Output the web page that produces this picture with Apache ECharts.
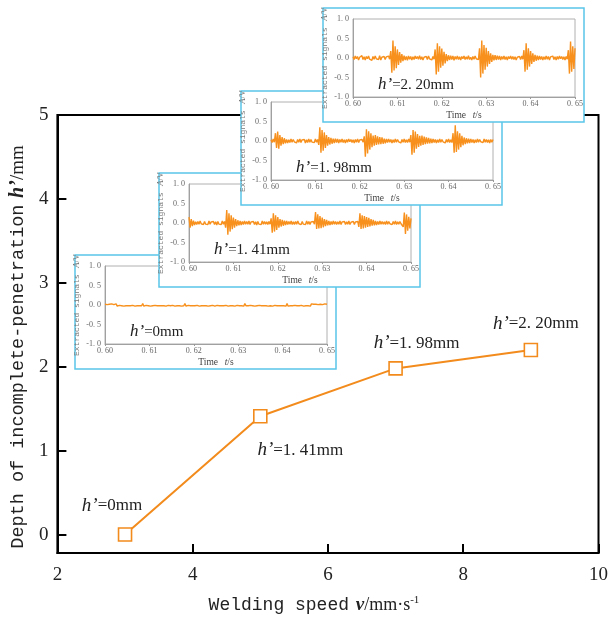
<!DOCTYPE html>
<html>
<head>
<meta charset="utf-8">
<script src="https://cdn.jsdelivr.net/npm/echarts@6/dist/echarts.min.js"></script>
<style>html,body{margin:0;padding:0;background:#fff}#c{width:611px;height:621px}</style>
</head>
<body>
<div id="c"></div>
<script>
// ---------- data ----------
const mainSpeed = [3, 5, 7, 9];
const mainDepth = [0, 1.41, 1.98, 2.20];
const mainXTicks = [2, 4, 6, 8, 10];
const mainYTicks = [0, 1, 2, 3, 4, 5];

const insetTimeTicks = [0.60, 0.61, 0.62, 0.63, 0.64, 0.65];
const insetSignalTicks = [-1, -0.5, 0, 0.5, 1];
const sampleStart = 0.60;
const sampleStep = 0.00025;

const signal0mm = [
0.02,-0.02,0.01,-0.03,0.02,-0.01,0.03,-0.02,0.01,-0.02,
0.03,-0.03,0.02,-0.01,0.02,-0.02,0.01,-0.03,0.02,-0.02,
0.01,-0.02,0.03,-0.02,0.02,-0.01,0.02,-0.03,0.01,-0.02,
0.02,-0.02,0.01,-0.02,0.04,-0.03,0.02,-0.01,0.02,-0.02,
0.01,-0.03,0.02,-0.02,0.01,-0.01,0.03,-0.02,0.02,-0.02,
0.03,-0.02,0.01,-0.02,0.02,-0.03,0.01,-0.01,0.02,-0.02,
0.02,-0.01,0.03,-0.03,0.01,-0.02,0.02,-0.02,0.01,-0.03,
0.02,-0.02,0.04,-0.03,0.02,-0.01,0.01,-0.02,0.03,-0.02,
0.01,-0.02,0.02,-0.01,0.02,-0.03,0.02,-0.02,0.01,-0.02,
0.03,-0.02,0.01,-0.03,0.02,-0.02,0.01,-0.01,0.02,-0.03,
0.02,-0.01,0.02,-0.02,0.03,-0.02,0.01,-0.02,0.02,-0.01,
0.01,-0.03,0.02,-0.02,0.01,-0.02,0.03,-0.03,0.02,-0.01,
0.02,-0.02,0.01,-0.02,0.02,-0.03,0.04,-0.02,0.01,-0.02,
0.03,-0.01,0.02,-0.02,0.01,-0.03,0.02,-0.02,0.02,-0.01,
0.01,-0.02,0.03,-0.02,0.02,-0.02,0.01,-0.03,0.02,-0.02,
0.02,-0.03,0.01,-0.01,0.02,-0.02,0.03,-0.02,0.01,-0.02,
0.03,-0.02,0.02,-0.03,0.04,-0.03,0.02,-0.02,0.01,-0.02,
0.02,-0.01,0.01,-0.02,0.03,-0.02,0.02,-0.01,0.02,-0.03,
0.01,-0.02,0.02,-0.02,0.01,-0.03,0.03,-0.02,0.02,-0.01,
0.02,-0.02,0.01,-0.03,0.02,-0.02,0.01,-0.02,0.03,-0.02,
0.02
];

const signal141 = [
0.15,-0.12,0.10,-0.08,0.06,-0.05,
0.03,-0.04,0.04,-0.03,0.05,-0.02,0.03,-0.04,0.04,-0.03,
0.02,-0.04,0.05,-0.03,0.03,-0.02,0.04,-0.04,0.03,-0.05,
0.04,-0.03,0.02,-0.04,0.05,-0.03,0.04,
-0.12,0.33,-0.30,0.25,-0.22,0.20,-0.16,0.14,-0.12,0.10,-0.08,0.07,
-0.06,0.05,-0.05,0.04,-0.04,0.05,-0.03,0.04,-0.03,0.05,
-0.04,0.03,-0.02,0.04,-0.04,0.03,-0.05,0.04,-0.03,0.02,
-0.04,0.05,-0.03,0.04,-0.03,0.03,-0.04,0.04,-0.03,
0.12,-0.25,0.25,-0.22,0.20,-0.18,0.15,-0.12,0.10,-0.09,0.08,-0.07,
0.06,-0.05,0.05,-0.04,0.04,-0.03,0.05,-0.04,0.03,-0.04,
0.04,-0.03,0.05,-0.02,0.03,-0.04,0.04,-0.03,0.02,-0.04,
0.05,-0.03,0.04,-0.04,0.03,-0.02,0.04,-0.03,
0.28,-0.15,0.22,-0.14,0.18,-0.13,0.14,-0.11,0.10,-0.08,0.08,-0.06,
0.05,-0.05,0.04,-0.04,0.05,-0.03,0.04,-0.04,0.03,-0.03,
0.05,-0.04,0.03,-0.02,0.04,-0.04,0.03,-0.03,0.05,-0.04,
0.02,-0.03,0.04,-0.04,0.03,-0.02,0.04,
-0.10,0.25,-0.15,0.20,-0.14,0.18,-0.12,0.15,-0.10,0.13,-0.09,0.10,-0.07,0.08,
-0.06,0.05,-0.05,0.04,-0.04,0.05,-0.03,0.04,-0.03,0.03,
-0.04,0.05,-0.03,0.04,-0.02,0.03,-0.04,0.04,-0.03,0.05,
-0.04,0.03,-0.03,0.04,-0.02,0.03,
-0.10,0.27,-0.28,0.22,-0.20,0.16,-0.14,0.12
];

const signal198 = [
0.03,-0.04,0.05,-0.03,
0.20,-0.18,0.24,-0.20,0.15,-0.12,0.10,-0.08,0.07,-0.06,
0.04,-0.05,0.03,-0.04,0.05,-0.03,0.04,-0.02,0.03,-0.05,
0.04,-0.03,0.05,-0.04,0.03,-0.02,0.04,-0.05,0.03,-0.04,
0.05,-0.03,0.04,-0.03,0.02,-0.04,0.05,-0.03,0.04,
-0.10,0.35,-0.30,0.28,-0.25,0.22,-0.18,0.15,-0.12,0.10,-0.09,0.08,
-0.07,0.06,-0.05,0.06,-0.04,0.05,-0.05,0.04,-0.03,0.05,
-0.04,0.03,-0.05,0.04,-0.03,0.05,-0.02,0.04,-0.04,0.03,
-0.05,0.04,-0.03,0.05,-0.04,0.03,-0.02,0.04,-0.03,
0.12,-0.40,0.30,-0.32,0.25,-0.22,0.20,-0.16,0.14,-0.12,0.15,-0.10,0.12,-0.09,
0.10,-0.08,0.09,-0.07,0.06,-0.06,0.05,-0.04,0.05,-0.03,
0.04,-0.05,0.03,-0.04,0.05,-0.03,0.04,-0.02,0.03,-0.05,
0.04,-0.03,0.05,-0.04,0.03,-0.04,0.05,-0.03,
0.15,-0.35,0.28,-0.30,0.24,-0.20,0.18,-0.15,0.13,-0.12,0.14,-0.10,0.11,-0.08,
0.09,-0.07,0.08,-0.06,0.06,-0.05,0.05,-0.04,0.04,-0.05,
0.03,-0.04,0.05,-0.03,0.04,-0.02,0.03,-0.05,0.04,-0.03,
0.05,-0.04,0.03,-0.04,
0.20,-0.30,0.40,-0.28,0.25,-0.22,0.20,-0.16,0.13,-0.11,0.09,-0.08,
0.07,-0.06,0.06,-0.05,0.05,-0.04,0.04,-0.05,0.03,-0.04,
0.05,-0.03,0.04,-0.02,0.03,-0.04,0.05,-0.03,0.04,-0.04,
0.03,-0.05,0.04,-0.03,0.04
];

const signal220 = [
0.03,-0.04,0.05,-0.02,0.04,-0.05,0.02,-0.03,0.06,-0.04,
0.03,-0.05,0.04,-0.02,0.05,-0.03,0.02,-0.06,0.04,-0.03,
0.05,-0.02,0.03,-0.04,0.06,-0.05,0.02,-0.03,0.04,-0.04,
0.03,-0.02,0.05,-0.03,
0.18,-0.38,0.45,-0.32,0.30,-0.26,0.22,-0.18,0.15,-0.12,0.10,-0.08,
0.06,-0.05,0.04,-0.06,0.05,-0.03,0.04,-0.05,0.03,-0.04,
0.05,-0.02,0.04,-0.03,0.06,-0.04,0.03,-0.05,0.02,-0.03,
0.04,-0.04,0.05,-0.02,0.03,-0.05,0.04,-0.03,
0.22,-0.42,0.38,-0.35,0.30,-0.25,0.24,-0.20,0.16,-0.14,0.10,-0.08,
0.07,-0.05,0.06,-0.04,0.05,-0.06,0.04,-0.03,0.05,-0.04,
0.03,-0.05,0.04,-0.02,0.05,-0.04,0.03,-0.03,0.06,-0.04,
0.02,-0.05,0.04,-0.03,0.05,-0.02,0.03,-0.04,
0.25,-0.50,0.45,-0.40,0.33,-0.30,0.26,-0.22,0.18,-0.15,0.12,-0.10,
0.08,-0.06,0.07,-0.05,0.06,-0.04,0.05,-0.05,0.04,-0.03,
0.05,-0.04,0.03,-0.05,0.04,-0.02,0.05,-0.03,0.04,-0.04,
0.03,-0.05,0.02,-0.03,0.04,-0.04,0.05,-0.03,
0.20,-0.35,0.38,-0.30,0.25,-0.22,0.18,-0.15,0.12,-0.10,0.08,-0.07,
0.06,-0.05,0.05,-0.04,0.04,-0.05,0.03,-0.04,0.05,-0.03,
0.04,-0.05,0.03,-0.02,0.05,-0.04,0.03,-0.05,0.04,-0.03,
0.05,-0.02,0.04,-0.04,0.03,-0.05,0.04,-0.03,
0.20,-0.40,0.42,-0.35,0.30,-0.28,0.25
];

const insetSignals = [signal0mm, signal141, signal198, signal220];

// ---------- layout / style ----------
const ORANGE = '#f28b1c';
const BLUE = '#5ac6e9';
const insetBoxes = [
  { left: 75,  top: 255 },
  { left: 159, top: 173 },
  { left: 241, top: 91 },
  { left: 323, top: 8 }
];
const BOX_W = 261, BOX_H = 114;
const IN_L = 30, IN_T = 11, IN_W = 222, IN_H = 78;
const mainLabelOffsets = [[-13, -29], [40, 34], [21, -25], [5, -26]];

const fmtDepth = v => v === 0 ? '0' : v.toFixed(2).replace('.', '. ');
const fmtT = v => v.toFixed(2).replace('.', '. ');
const fmtS = v => v.toFixed(1).replace('.', '. ');

const grid = [{
  left: 54, top: 115, width: 546, height: 438,
  show: true, borderColor: '#000', borderWidth: 2, backgroundColor: 'transparent', z: 0
}];
const xAxis = [{
  gridIndex: 0, type: 'value', min: 2, max: 10, interval: 2,
  axisLine: { show: true, onZero: false, lineStyle: { color: '#000', width: 2 } },
  axisTick: { show: true, inside: true, length: 9, customValues: mainXTicks, lineStyle: { color: '#000', width: 2 } },
  axisLabel: { color: '#222', fontFamily: 'Liberation Serif', fontSize: 19, margin: 13, customValues: mainXTicks },
  splitLine: { show: false },
  name: '{a|Welding speed}  {b|v}{c|/mm·s}{d|-1}',
  nameLocation: 'middle', nameGap: 42,
  nameTextStyle: {
    rich: {
      a: { fontFamily: 'Liberation Mono', fontSize: 18, color: '#222' },
      b: { fontFamily: 'Liberation Serif', fontSize: 19, fontStyle: 'italic', fontWeight: 'bold', color: '#222' },
      c: { fontFamily: 'Liberation Serif', fontSize: 18, color: '#222' },
      d: { fontFamily: 'Liberation Serif', fontSize: 11, color: '#222', verticalAlign: 'top', padding: [0, 28, 10, 0] }
    }
  }
}];
const yAxis = [{
  gridIndex: 0, type: 'value', min: -0.22, max: 5,
  axisLine: { show: true, onZero: false, lineStyle: { color: '#000', width: 2 } },
  axisTick: { show: true, inside: true, length: 9, customValues: mainYTicks, lineStyle: { color: '#000', width: 2 } },
  axisLabel: { color: '#222', fontFamily: 'Liberation Serif', fontSize: 19, margin: 9, customValues: mainYTicks },
  splitLine: { show: false },
  name: '{a|Depth of incomplete-penetration}  {b|h’}{c|/mm}',
  nameLocation: 'middle', nameGap: 25,
  nameTextStyle: {
    rich: {
      a: { fontFamily: 'Liberation Mono', fontSize: 18.5, color: '#222' },
      b: { fontFamily: 'Liberation Serif', fontSize: 20, fontStyle: 'italic', fontWeight: 'bold', color: '#222' },
      c: { fontFamily: 'Liberation Serif', fontSize: 19, color: '#222', padding: [0, 26, 0, 0] }
    }
  }
}];

const series = [{
  type: 'line', xAxisIndex: 0, yAxisIndex: 0, z: 2,
  data: mainSpeed.map((x, i) => ({ value: [x, mainDepth[i]], label: { offset: mainLabelOffsets[i] } })),
  symbol: 'rect', symbolSize: 13,
  itemStyle: { color: '#fff', borderColor: ORANGE, borderWidth: 1.6 },
  lineStyle: { color: ORANGE, width: 2 },
  label: {
    show: true, position: 'inside',
    formatter: p => '{h|h’}{n|=' + fmtDepth(p.value[1]) + 'mm}',
    rich: {
      h: { fontFamily: 'Liberation Serif', fontStyle: 'italic', fontSize: 19, color: '#222' },
      n: { fontFamily: 'Liberation Serif', fontSize: 17, color: '#222' }
    }
  },
  animation: false
}];

const graphic = [];

insetBoxes.forEach((b, k) => {
  const base = 20 + k * 10;
  const gi = k + 1;
  graphic.push({
    type: 'rect', z: base,
    shape: { x: b.left, y: b.top, width: BOX_W, height: BOX_H },
    style: { fill: '#fff', stroke: BLUE, lineWidth: 1.5 }
  });
  graphic.push({
    type: 'text', z: base + 5,
    x: b.left + 55, y: b.top + 77,
    style: {
      text: '{h|h’}{n|=' + fmtDepth(mainDepth[k]) + 'mm}',
      verticalAlign: 'middle',
      rich: {
        h: { fontFamily: 'Liberation Serif', fontStyle: 'italic', fontSize: 17, fill: '#222' },
        n: { fontFamily: 'Liberation Serif', fontSize: 15, fill: '#222' }
      }
    }
  });
  grid.push({
    left: b.left + IN_L, top: b.top + IN_T, width: IN_W, height: IN_H,
    show: true, borderColor: '#b0b0b0', borderWidth: 1, backgroundColor: '#fff', z: base + 1
  });
  xAxis.push({
    gridIndex: gi, type: 'value', min: 0.60, max: 0.65, z: base + 2,
    axisLine: { show: true, onZero: false, lineStyle: { color: '#a0a0a0', width: 1 } },
    axisTick: { show: true, length: 2, customValues: insetTimeTicks, lineStyle: { color: '#999' } },
    axisLabel: { color: '#666', fontFamily: 'Liberation Serif', fontSize: 8, margin: 3,
                 customValues: insetTimeTicks, formatter: fmtT },
    splitLine: { show: false },
    name: '{a|Time}  {b|t}{c|/s}', nameLocation: 'middle', nameGap: 12,
    nameTextStyle: { rich: {
      a: { fontFamily: 'Liberation Serif', fontSize: 9.5, color: '#444' },
      b: { fontFamily: 'Liberation Serif', fontSize: 9.5, fontStyle: 'italic', color: '#444' },
      c: { fontFamily: 'Liberation Serif', fontSize: 9.5, color: '#444' }
    } }
  });
  yAxis.push({
    gridIndex: gi, type: 'value', min: -1, max: 1, z: base + 2,
    axisLine: { show: true, onZero: false, lineStyle: { color: '#a0a0a0', width: 1 } },
    axisTick: { show: false, customValues: insetSignalTicks },
    axisLabel: { color: '#666', fontFamily: 'Liberation Serif', fontSize: 8, margin: 4,
                 customValues: insetSignalTicks, formatter: fmtS },
    splitLine: { show: false },
    name: '{a|Extracted signals}  {b|A}{c|/V}', nameLocation: 'middle', nameGap: 20,
    nameTextStyle: { rich: {
      a: { fontFamily: 'Liberation Mono', fontSize: 8, color: '#777' },
      b: { fontFamily: 'Liberation Serif', fontSize: 8.5, fontStyle: 'italic', color: '#777' },
      c: { fontFamily: 'Liberation Serif', fontSize: 8.5, color: '#777' }
    } }
  });
  series.push({
    type: 'line', xAxisIndex: gi, yAxisIndex: gi, z: base + 3,
    data: insetSignals[k].map((v, i) => [+(sampleStart + i * sampleStep).toFixed(5), v]),
    showSymbol: false, symbol: 'none',
    lineStyle: { color: '#f7901c', width: 1.4 },
    animation: false, silent: true
  });
});

const chart = echarts.init(document.getElementById('c'), null, { renderer: 'canvas' });
chart.setOption({
  animation: false,
  backgroundColor: '#fff',
  grid, xAxis, yAxis, series, graphic
});
</script>
</body>
</html>
